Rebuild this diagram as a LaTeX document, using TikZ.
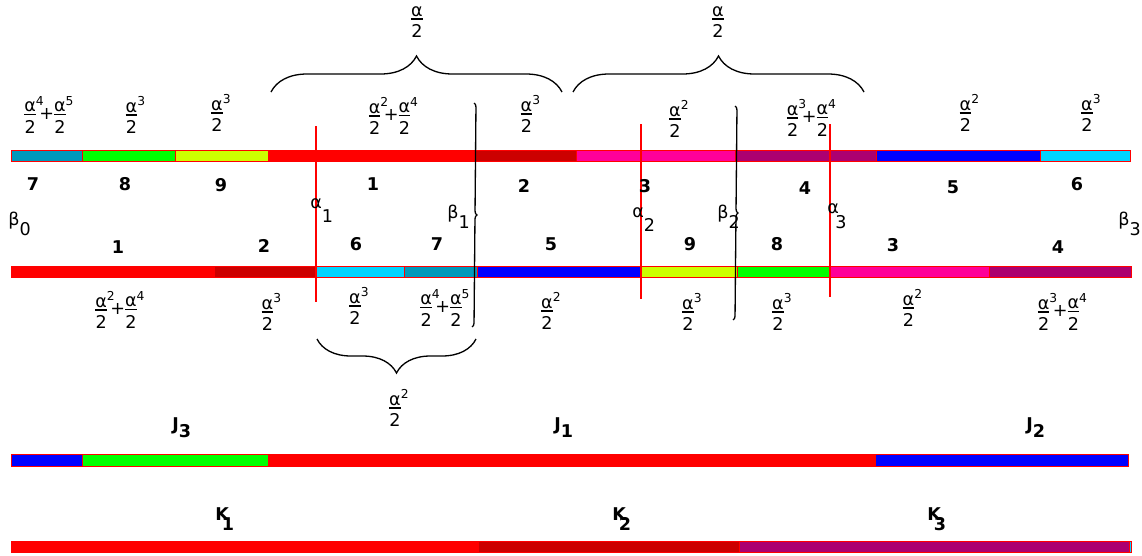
\documentclass[tikz,border=0pt]{standalone}
\usepackage{fontspec}
\setmainfont{DejaVu Sans}
\usetikzlibrary{decorations.pathreplacing}

% one colour per interval number
\definecolor{c1}{RGB}{255,0,0}
\definecolor{c2}{RGB}{204,0,0}
\definecolor{c3}{RGB}{255,0,153}
\definecolor{c4}{RGB}{172,0,112}
\definecolor{c5}{RGB}{0,0,255}
\definecolor{c6}{RGB}{0,212,255}
\definecolor{c7}{RGB}{0,153,187}
\definecolor{c8}{RGB}{0,255,0}
\definecolor{c9}{RGB}{204,255,0}

\newcommand{\fa}[1]{$\vcenter{\offinterlineskip\halign{\hfil##\hfil\cr α\rlap{\textsuperscript{#1}}\cr\noalign{\kern1pt\hrule height0.9pt\kern2.8pt}2\cr}}$}
\newcommand{\fs}[2]{\fa{#1}\kern2pt+\fa{#2}}
\newcommand{\gl}[3][0.6em]{#2\raisebox{-#1}{#3}}

\tikzset{
  seg/.style={draw=red, line width=0.4pt},
  cut/.style={red, line width=0.8pt},
  brc/.style={decorate, decoration={brace, amplitude=#1}, line width=0.75pt},
  num/.style={font=\bfseries},
  lab/.style={anchor=base west, inner sep=0pt}
}

\begin{document}
\begin{tikzpicture}[x=0.02cm, y=-0.02cm]
  \useasboundingbox (0,0) rectangle (1142,555);

  % the four bars
  \foreach \a/\b/\n in {11/82/7, 82/175/8, 175/268/9, 268/475/1, 475/576/2, 576/735/3, 735/876/4, 876/1040/5, 1040/1130/6}
    \draw[seg, fill=c\n] (\a,150) rectangle (\b,161);
  \foreach \a/\b/\n in {11/214/1, 214/316/2, 316/404/6, 404/477/7, 477/641/5, 641/737/9, 737/829/8, 829/989/3, 989/1131/4}
    \draw[seg, fill=c\n] (\a,266) rectangle (\b,277);
  \foreach \a/\b/\n in {11/82/5, 82/268/8, 268/875/1, 875/1128/5}
    \draw[seg, fill=c\n] (\a,454) rectangle (\b,466);
  \foreach \a/\b/\n in {11/478/1, 478/739/2, 739/1129/4, 1129/1131/6}
    \draw[seg, fill=c\n] (\a,541) rectangle (\b,552);

  % cuts
  \draw[cut] (316,126) -- (316,302);
  \draw[cut] (641,124) -- (641,299);
  \draw[cut] (830,124) -- (830,297);
  \draw[brc=0.08cm] (474,103) -- (472,327);
  \draw[brc=0.08cm] (735,106) -- (733,320);

  % braces
  \draw[brc=0.72cm] (271,92) -- (562,92);
  \draw[brc=0.72cm] (573,92) -- (864,92);
  \draw[brc=0.68cm] (476,339) -- (317,339);
  \node (h1) at (417,22) {\fa{}};
  \node (h2) at (718,22) {\fa{}};
  \node (h3) at (395,408) {\fa{2}};

  % interval numbers
  \foreach \x/\y/\n in {33/184/7, 125/184/8, 221/185/9, 373/184/1, 524/186/2, 645/186/3, 805/188/4, 953/187/5, 1077/184/6}
    \node[num] (t\n) at (\x,\y) {\n};
  \foreach \x/\y/\n in {118/247/1, 264/246/2, 356/244/6, 437/244/7, 551/244/5, 690/244/9, 777/244/8, 893/245/3, 1058/247/4}
    \node[num] (m\n) at (\x,\y) {\n};

  % lengths
  \node (ft7) at (45,115) {\fs{4}{5}};
  \node (ft8) at (131.5,115) {\fa{3}};
  \node (ft9) at (217,113) {\fa{3}};
  \node (ft1) at (389.5,116) {\fs{2}{4}};
  \node (ft2) at (526.5,114) {\fa{3}};
  \node (ft3) at (675,119) {\fa{2}};
  \node (ft4) at (807.5,118) {\fs{3}{4}};
  \node (ft5) at (965.5,113) {\fa{2}};
  \node (ft6) at (1087,113) {\fa{3}};

  \node (fm1) at (116,310) {\fs{2}{4}};
  \node (fm2) at (267.5,312) {\fa{3}};
  \node (fm6) at (355,306) {\fa{3}};
  \node (fm7) at (441,308) {\fs{4}{5}};
  \node (fm5) at (547,311) {\fa{2}};
  \node (fm9) at (688,312) {\fa{3}};
  \node (fm8) at (778,312) {\fa{3}};
  \node (fm3) at (908.5,308) {\fa{2}};
  \node (fm4) at (1058.5,312) {\fs{3}{4}};

  % points
  \node[lab] (b0) at (8,225) {\gl{β}{0}};
  \node[lab] (a1) at (310,208) {\gl[0.8em]{α}{1}};
  \node[lab] (b1) at (447,218) {\gl{β}{1}};
  \node[lab] (a2) at (632,217) {\gl[0.8em]{α}{2}};
  \node[lab] (b2) at (717,218) {\gl{β}{2}};
  \node[lab] (a3) at (827,213) {α\kern-2pt\raisebox{-0.9em}{3}};
  \node[lab] (b3) at (1118,225) {\gl{β}{3}};

  % J and K
  \node[lab] (j3) at (172,430) {\bfseries J\raisebox{-0.45em}{3}};
  \node[lab] (j1) at (554,430) {\bfseries J\raisebox{-0.45em}{1}};
  \node[lab] (j2) at (1026,430) {\bfseries J\raisebox{-0.45em}{2}};
  \node[lab] (k1) at (215,520) {\bfseries K\kern-4pt\raisebox{-0.6em}{1}};
  \node[lab] (k2) at (612,520) {\bfseries K\kern-4pt\raisebox{-0.6em}{2}};
  \node[lab] (k3) at (927,520) {\bfseries K\kern-4pt\raisebox{-0.6em}{3}};
\end{tikzpicture}
\end{document}
